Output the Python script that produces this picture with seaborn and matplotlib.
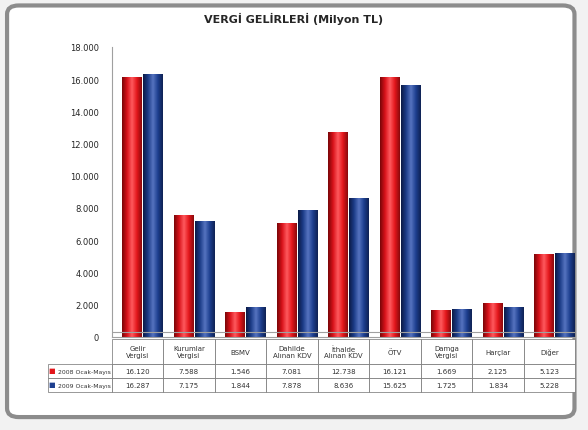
import numpy as np
import pandas as pd
import matplotlib
matplotlib.use('Agg')
import matplotlib.pyplot as plt
import seaborn as sns
from matplotlib.patches import FancyBboxPatch
from matplotlib.colors import LinearSegmentedColormap
from matplotlib.ticker import FuncFormatter

# data
categories = ['Gelir\nVergisi', 'Kurumlar\nVergisi', 'BSMV', 'Dahilde\nAlınan KDV',
              'İthalde\nAlınan KDV', 'ÖTV', 'Damga\nVergisi', 'Harçlar', 'Diğer']
series_names = ['2008 Ocak-Mayıs', '2009 Ocak-Mayıs']
values_2008 = [16120, 7588, 1546, 7081, 12738, 16121, 1669, 2125, 5123]
values_2009 = [16287, 7175, 1844, 7878, 8636, 15625, 1725, 1834, 5228]
colors = ['#e3161b', '#1d3f8f']
# cylinder shading per series: edge -> base -> highlight -> base -> edge
shades = [
    ['#7a0608', '#d8121a', '#ff5a5e', '#e3161b', '#8a0a0c'],
    ['#0b1a45', '#1c3c88', '#5674c0', '#1d3f8f', '#0f2254'],
]

df = pd.DataFrame({
    'kategori': categories * 2,
    'seri': [series_names[0]] * len(categories) + [series_names[1]] * len(categories),
    'deger': values_2008 + values_2009,
})

sns.set_style('white')
plt.rcParams['font.family'] = ['DejaVu Sans']

fig = plt.figure(figsize=(5.88, 4.31), dpi=100)
fig.patch.set_facecolor('#f2f2f2')

# outer frame
frame = FancyBboxPatch((0.012, 0.03), 0.965, 0.955, boxstyle='round,pad=0,rounding_size=0.02',
                       transform=fig.transFigure, facecolor='white', edgecolor='#8c8c8c',
                       linewidth=3, zorder=-5)
fig.patches.append(frame)

ax = fig.add_axes([0.19, 0.216, 0.788, 0.673])
ax.set_zorder(2)
ax.set_facecolor('none')
sns.barplot(data=df, x='kategori', y='deger', hue='seri', palette=colors,
            ax=ax, width=0.82, gap=0.06, edgecolor='none', linewidth=0,
            saturation=1, legend=False)

# cylinder-like gradient on each bar (first n bars = 2008, next n = 2009)
grad = np.linspace(0, 1, 64).reshape(1, -1)
n = len(categories)
bars = [p for p in ax.patches if p.get_height() > 0]
for i, bar in enumerate(bars):
    cmap = LinearSegmentedColormap.from_list('c', shades[i // n])
    x, y = bar.get_x(), bar.get_y()
    w, h = bar.get_width(), bar.get_height()
    im = ax.imshow(grad, cmap=cmap, extent=[x, x + w, y, y + h], aspect='auto',
                   zorder=bar.get_zorder() + 0.1)
    im.set_clip_path(bar)

ax.set_ylim(0, 18000)
ax.set_xlim(-0.6, len(categories) - 0.6)
ax.set_yticks(range(0, 18001, 2000))
ax.yaxis.set_major_formatter(FuncFormatter(lambda v, p: '0' if v == 0 else f'{int(v):,}'.replace(',', '.')))
ax.tick_params(axis='y', labelsize=6, length=0, pad=9)
ax.set_xticks([])
ax.set_xlabel('')
ax.set_ylabel('')
for s in ['top', 'right']:
    ax.spines[s].set_visible(False)
ax.spines['left'].set_color('#a0a0a0')
ax.spines['bottom'].set_color('#a0a0a0')
ax.axhline(300, color='#a0a0a0', lw=0.8)

fig.text(0.5, 0.955, 'VERGİ GELİRLERİ (Milyon TL)', ha='center', va='center',
         fontsize=8, fontweight='bold')

# data table under the chart
fmt = lambda v: f'{v:,}'.replace(',', '.')
cell_text = [[fmt(v) for v in values_2008], [fmt(v) for v in values_2009]]
lab_w = 64 / 463
tab = ax.table(cellText=cell_text, colLabels=categories,
               rowLabels=['    ' + s for s in series_names],
               cellLoc='center', rowLoc='left',
               bbox=[0, -0.19, 1, 0.183])
tab._autoColumns = []  # keep the row-label column at a fixed width
tab.auto_set_font_size(False)
tab.set_fontsize(5)
heights = [0.086, 0.047, 0.047]
for (r, c), cell in tab.get_celld().items():
    cell.set_edgecolor('#707070')
    cell.set_linewidth(0.5)
    cell.set_height(heights[r])
    cell.set_width(lab_w if c == -1 else 1 / n)
    cell.set_facecolor('white')
    cell.PAD = 0.04
    cell.get_text().set_color('#333333')
    if c == -1:
        cell.get_text().set_fontsize(4.4)
        cell.get_text().set_clip_on(False)
    if r == 0:
        cell.get_text().set_linespacing(1.1)

for i, col in enumerate(colors):
    fig.text(0.0875, (431 - 371.5 - 13.5 * i) / 431, '■', color=col, fontsize=5,
             ha='center', va='center', zorder=10)

fig.savefig('out.png', dpi=100, facecolor=fig.get_facecolor())
